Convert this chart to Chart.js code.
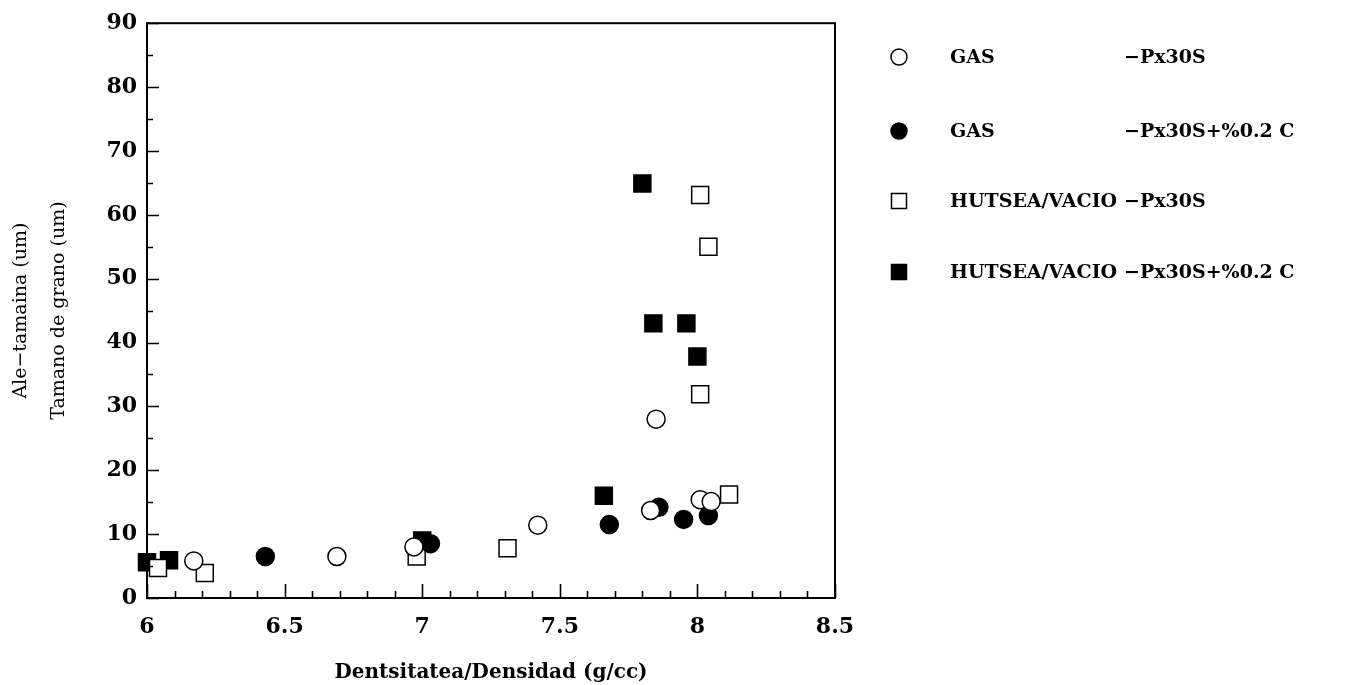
<!DOCTYPE html>
<html>
<head>
<meta charset="utf-8">
<script src="https://cdn.jsdelivr.net/npm/chart.js@4.4.1/dist/chart.umd.min.js"></script>
<style>
html,body{margin:0;padding:0;background:#fff;}
#wrap{width:1355px;height:685px;position:relative;}
</style>
</head>
<body>
<div id="wrap"><canvas id="c" width="1355" height="685"></canvas></div>
<script>
// ---- data ----
const gasX   = [6.17, 6.69, 6.97, 7.42, 7.83, 7.85, 8.01, 8.05];
const gasY   = [5.8, 6.5, 8.0, 11.4, 13.7, 28.0, 15.4, 15.1];
const gasCX  = [6.43, 7.03, 7.68, 7.86, 7.95, 8.04];
const gasCY  = [6.5, 8.5, 11.5, 14.2, 12.3, 12.9];
const vacX   = [6.04, 6.21, 6.98, 7.31, 8.01, 8.04, 8.01, 8.115];
const vacY   = [4.7, 3.9, 6.5, 7.8, 63.1, 55.0, 31.9, 16.2];
const vacCX  = [6.00, 6.08, 7.00, 7.66, 7.80, 7.84, 7.96, 8.00];
const vacCY  = [5.6, 5.9, 9.0, 16.0, 64.9, 43.0, 43.0, 37.8];

const legendA = ['GAS', 'GAS', 'HUTSEA/VACIO', 'HUTSEA/VACIO'];
const legendB = ['\u2212Px30S', '\u2212Px30S+%0.2 C', '\u2212Px30S', '\u2212Px30S+%0.2 C'];

const xTickLabels = ['6', '6.5', '7', '7.5', '8', '8.5'];
const yTickLabels = ['0', '10', '20', '30', '40', '50', '60', '70', '80', '90'];
const xTitle = 'Dentsitatea/Densidad (g/cc)';
const yTitle = ['Ale\u2212tamaina (um)', 'Tamano de grano (um)'];

function pts(xs, ys){ return xs.map((x,i)=>({x:x, y:ys[i]})); }

const SERIF = '"DejaVu Serif", "Liberation Serif", serif';

const datasets = [
  {label: legendA[0]+' '+legendB[0], data: pts(gasX,gasY), pointStyle:'circle', pointRadius:9,
   backgroundColor:'#fff', borderColor:'#000', borderWidth:1.5},
  {label: legendA[1]+' '+legendB[1], data: pts(gasCX,gasCY), pointStyle:'circle', pointRadius:9,
   backgroundColor:'#000', borderColor:'#000', borderWidth:1.5},
  {label: legendA[2]+' '+legendB[2], data: pts(vacX,vacY), pointStyle:'rect', pointRadius:12,
   backgroundColor:'#fff', borderColor:'#000', borderWidth:1.5},
  {label: legendA[3]+' '+legendB[3], data: pts(vacCX,vacCY), pointStyle:'rect', pointRadius:12,
   backgroundColor:'#000', borderColor:'#000', borderWidth:1.5},
].map(d => Object.assign(d, {showLine:false, clip:false, pointHoverRadius:d.pointRadius}));

// frame + inward ticks
const framePlugin = {
  id:'frame',
  afterDatasetsDraw(chart){
    const {ctx, chartArea:a, scales:{x, y}} = chart;
    ctx.save();
    ctx.strokeStyle = '#000';
    ctx.lineWidth = 2;
    ctx.strokeRect(a.left, a.top, a.right - a.left, a.bottom - a.top);
    ctx.lineWidth = 1.6;
    ctx.beginPath();
    for (let v = 0; v <= 90 + 1e-9; v += 5) {
      const p = Math.round(y.getPixelForValue(v)) + 0.5;
      const len = (Math.round(v) % 10 === 0) ? 12 : 6;
      ctx.moveTo(a.left, p); ctx.lineTo(a.left + len, p);
    }
    for (let i = 0; i <= 25; i++) {
      const v = 6 + i * 0.1;
      const p = Math.round(x.getPixelForValue(v)) + 0.5;
      const len = (i % 5 === 0) ? 14 : 7;
      ctx.moveTo(p, a.bottom); ctx.lineTo(p, a.bottom - len);
    }
    ctx.stroke();
    ctx.restore();
  }
};

// two-column legend
const legendPlugin = {
  id:'colLegend',
  afterDraw(chart){
    const ctx = chart.ctx;
    const rows = [57, 131, 201, 272];
    ctx.save();
    chart.data.datasets.forEach((ds, i) => {
      const cy = rows[i], cx = 899;
      ctx.fillStyle = ds.backgroundColor;
      ctx.strokeStyle = '#000';
      ctx.lineWidth = 1.5;
      if (ds.pointStyle === 'circle') {
        ctx.beginPath(); ctx.arc(cx, cy, 8, 0, Math.PI*2); ctx.fill(); ctx.stroke();
      } else {
        ctx.fillRect(cx-7.5, cy-7.5, 15, 15); ctx.strokeRect(cx-7.5, cy-7.5, 15, 15);
      }
      ctx.fillStyle = '#000';
      ctx.font = 'bold 19px ' + SERIF;
      ctx.textBaseline = 'middle';
      ctx.textAlign = 'left';
      ctx.fillText(legendA[i], 950, cy + 1);
      ctx.fillText(legendB[i], 1124, cy + 1);
    });
    ctx.restore();
  }
};

new Chart(document.getElementById('c'), {
  type: 'scatter',
  data: { datasets },
  options: {
    responsive:false,
    animation:false,
    layout:{ padding:{ left:0, right:520, top:20, bottom:0 } },
    plugins:{ legend:{display:false}, tooltip:{enabled:false} },
    scales:{
      x:{
        type:'linear', min:6, max:8.5,
        grid:{display:false, drawTicks:false},
        border:{display:false},
        ticks:{ stepSize:0.5, padding:16, color:'#000',
          font:{family:SERIF, size:22, weight:'bold'},
          callback:(v)=>{ const i = Math.round((v-6)/0.5); return xTickLabels[i] ?? ''; } },
        title:{ display:true, text:xTitle, color:'#000', padding:{top:12, bottom:0},
          font:{family:SERIF, size:20, weight:'bold'} },
        afterFit(s){ s.height = 87; }
      },
      y:{
        type:'linear', min:0, max:90,
        grid:{display:false, drawTicks:false},
        border:{display:false},
        ticks:{ stepSize:10, padding:10, color:'#000',
          font:{family:SERIF, size:22, weight:'bold'},
          callback:(v)=>{ const i = Math.round(v/10); return yTickLabels[i] ?? ''; } },
        title:{ display:true, text:yTitle, color:'#000', padding:{top:2, bottom:0},
          font:{family:SERIF, size:19, weight:'normal', lineHeight:2.0} },
        afterFit(s){ s.width = 147; }
      }
    }
  },
  plugins:[framePlugin, legendPlugin]
});
</script>
</body>
</html>
